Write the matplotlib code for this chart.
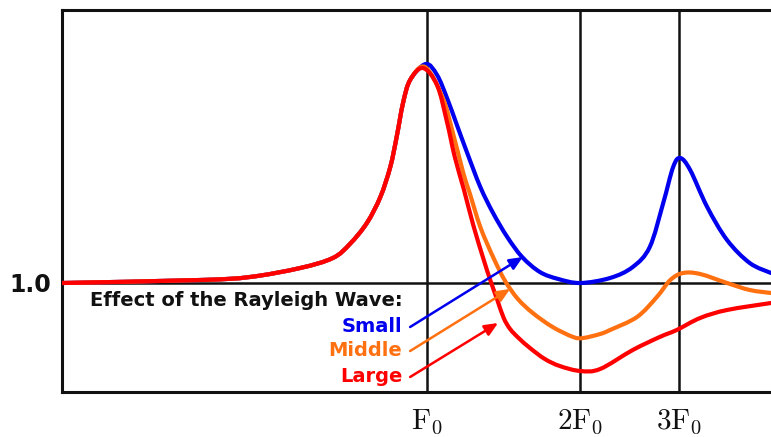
import matplotlib
matplotlib.use("Agg")
import matplotlib.pyplot as plt
from matplotlib.path import Path
from matplotlib.patches import PathPatch
import numpy as np

BLUE = "#0000ee"
ORANGE = "#ff7010"
RED = "#ff0000"
INK = "#111111"

plt.rcParams["mathtext.fontset"] = "cm"

# harmonic positions on the (schematic) frequency axis
harmonic_pos = [51.5, 73.1, 87.0]
harmonic_labels = [r"$\mathrm{F_0}$", r"$\mathrm{2F_0}$", r"$\mathrm{3F_0}$"]

# shared low-frequency rise (all curves overlap here)
rise_x = [0, 19.5, 26.5, 33.6, 38.2, 40.6, 43.0, 44.9, 46.3, 47.2, 48.1, 49.1]
rise_y = [1.0, 1.015, 1.03, 1.075, 1.125, 1.195, 1.30, 1.43, 1.58, 1.73, 1.90, 2.015]

# large Rayleigh-wave effect
large_x = rise_x + [50.9, 52.9, 54.3, 55.4, 56.7, 58.0, 59.4, 60.4, 61.4, 62.3,
                    63.2, 64.4, 66.0, 68.1, 70.2, 73.1, 75.9, 80.5, 84.3, 86.7,
                    90.0, 93.8, 100]
large_y = rise_y + [2.075, 1.99, 1.805, 1.63, 1.465, 1.29, 1.125, 1.015, 0.915, 0.825,
                    0.77, 0.725, 0.675, 0.62, 0.585, 0.56, 0.57, 0.665, 0.73, 0.765,
                    0.825, 0.865, 0.90]

# middle effect
middle_x = rise_x + [51.2, 53.7, 55.1, 56.6, 57.5, 59.0, 60.8, 62.5, 64.3, 66.4,
                     69.2, 72.1, 73.5, 75.9, 77.3, 81.1, 83.9, 85.8, 87.6, 90.0,
                     93.8, 97.0, 100]
middle_y = rise_y + [2.08, 1.925, 1.755, 1.55, 1.45, 1.28, 1.13, 1.01, 0.92, 0.85,
                     0.78, 0.73, 0.725, 0.745, 0.765, 0.83, 0.93, 1.015, 1.05, 1.045,
                     1.0, 0.965, 0.95]

# small effect
small_x = rise_x + [51.3, 52.9, 54.3, 55.7, 57.1, 59.0, 60.8, 62.8, 64.9, 67.4,
                    70.0, 73.1, 77.3, 80.5, 82.9, 84.8, 86.2, 87.2, 88.6, 91.0,
                    93.8, 97.0, 100]
small_y = rise_y + [2.095, 2.04, 1.925, 1.79, 1.655, 1.48, 1.35, 1.23, 1.13, 1.055,
                    1.02, 1.0, 1.025, 1.08, 1.18, 1.40, 1.58, 1.625, 1.565, 1.38,
                    1.215, 1.10, 1.05]

legend_labels = ["Small", "Middle", "Large"]


def smooth_path(xs, ys):
    """Catmull-Rom through the read points, drawn as cubic Bezier segments."""
    p = np.column_stack([xs, ys]).astype(float)
    n = len(p)
    verts = [p[0]]
    codes = [Path.MOVETO]
    for i in range(n - 1):
        p0 = p[i - 1] if i > 0 else p[i]
        p1, p2 = p[i], p[i + 1]
        p3 = p[i + 2] if i + 2 < n else p[i + 1]
        verts += [p1 + (p2 - p0) / 6, p2 - (p3 - p1) / 6, p2]
        codes += [Path.CURVE4] * 3
    return Path(verts, codes)


fig = plt.figure(figsize=(7.71, 4.37), dpi=100)
ax = fig.add_axes([62 / 771, 45 / 437, 1 - 62 / 771, 382 / 437])
ax.set_xlim(0, 100)
ax.set_ylim(0.455, 2.365)

for sp in ["left", "top", "bottom"]:
    ax.spines[sp].set_linewidth(2.2)
    ax.spines[sp].set_color(INK)
ax.spines["right"].set_visible(False)

# reference lines
ax.axhline(1.0, color=INK, lw=1.8, zorder=1)
for p in harmonic_pos:
    ax.axvline(p, color=INK, lw=1.8, zorder=1)

for xs, ys, c, z in [(small_x, small_y, BLUE, 3),
                     (middle_x, middle_y, ORANGE, 4),
                     (large_x, large_y, RED, 5)]:
    ax.add_patch(PathPatch(smooth_path(xs, ys), facecolor="none", edgecolor=c,
                           lw=3, capstyle="round", joinstyle="round", zorder=z))

ax.set_xticks(harmonic_pos)
ax.set_xticklabels(harmonic_labels, fontsize=21, color=INK)
ax.set_yticks([1.0])
ax.set_yticklabels(["1.0"], fontsize=17, weight="bold", color=INK)
ax.tick_params(axis="both", length=0)
ax.tick_params(axis="x", pad=11)
ax.tick_params(axis="y", pad=8)

# annotation block
ax.text(48.0, 0.91, "Effect of the Rayleigh Wave:", ha="right", va="center",
        fontsize=14, weight="bold", color=INK)
text_y = [0.785, 0.665, 0.535]
arrow_tips = [(65.0, 1.13), (63.2, 0.97), (61.5, 0.80)]
for lab, ty, tip, c in zip(legend_labels, text_y, arrow_tips, [BLUE, ORANGE, RED]):
    ax.text(48.0, ty, lab, ha="right", va="center", fontsize=14,
            weight="bold", color=c)
    ax.annotate("", xy=tip, xytext=(49.1, ty - 0.005),
                arrowprops=dict(arrowstyle="-|>,head_length=0.8,head_width=0.35",
                                color=c, lw=1.8, shrinkA=0, shrinkB=0), zorder=6)

fig.savefig("out.png", dpi=100)
